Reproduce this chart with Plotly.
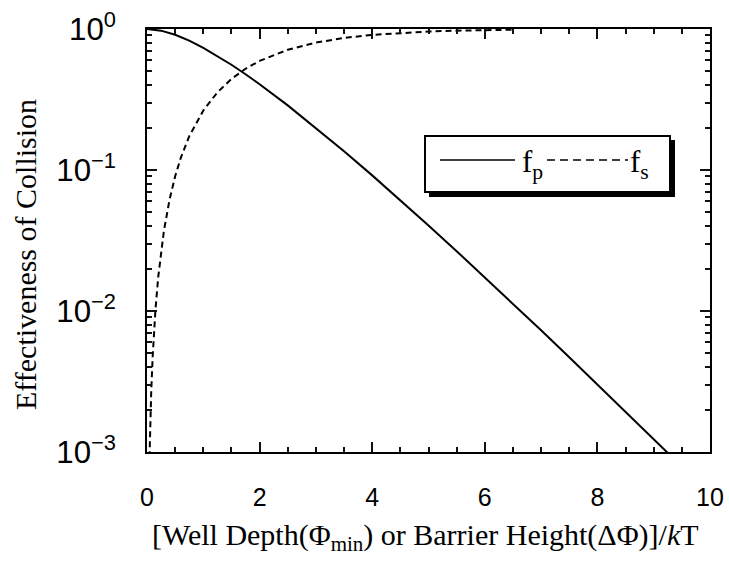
import plotly.graph_objects as go

# ---- data ----
x_fp = [0.0, 0.25, 0.5, 0.75, 1.0, 1.25, 1.5, 1.75, 2.0, 2.5, 3.0, 3.5, 4.0, 4.5, 5.0,
        5.5, 6.0, 6.5, 7.0, 7.5, 8.0, 8.5, 9.0, 9.25]
y_fp = [1.0, 0.9735, 0.9098, 0.8266, 0.7358, 0.6446, 0.5578, 0.4779, 0.406, 0.2873,
        0.1991, 0.1359, 0.0916, 0.0611, 0.0404, 0.02656, 0.01735, 0.01128, 0.0073,
        0.0047, 0.00302, 0.00193, 0.00123, 0.000985]

x_fs = [0.04, 0.05, 0.075, 0.1, 0.15, 0.2, 0.3, 0.4, 0.5, 0.6, 0.75, 1.0, 1.25, 1.5,
        1.75, 2.0, 2.5, 3.0, 3.5, 4.0, 4.5, 5.0, 5.5, 6.0, 6.5]
y_fs = [0.00078, 0.00121, 0.00268, 0.00468, 0.01019, 0.01752, 0.03694, 0.06155,
        0.0902, 0.1219, 0.1734, 0.2642, 0.3554, 0.4422, 0.5221, 0.594, 0.7127,
        0.8009, 0.8641, 0.9084, 0.9389, 0.9596, 0.9734, 0.9826, 0.9887]

x_range = [0, 10]
x_major_step = 2
x_minor_step = 0.5
y_range_log = [-3, 0]
y_label_alias = {"1": "10<sup>0</sup>"}

W, H = 729, 567
L, R, T, B = 147, 19, 29, 115
PW, PH = W - L - R, H - T - B
INK = "#111111"


def px(xp):
    return (xp - L) / PW


def py(yp):
    return (H - B - yp) / PH


fig = go.Figure()
fig.add_trace(go.Scatter(x=x_fp, y=y_fp, mode="lines", name="f<sub>p</sub>",
                         line=dict(color="black", width=2), showlegend=False))
fig.add_trace(go.Scatter(x=x_fs, y=y_fs, mode="lines", name="f<sub>s</sub>",
                         line=dict(color="black", width=2, dash="6px,4px"),
                         showlegend=False))

tickfont = dict(family="Liberation Sans", size=25, color="black")
fig.update_xaxes(range=x_range, dtick=x_major_step, ticks="inside", ticklen=10,
                 tickwidth=2, tickcolor=INK, showline=True, linecolor="black",
                 linewidth=2, mirror="allticks", showgrid=False, zeroline=False,
                 tickfont=tickfont, ticklabelstandoff=22, automargin=False,
                 minor=dict(ticks="inside", ticklen=5, dtick=x_minor_step,
                            tickcolor=INK))
fig.update_yaxes(type="log", range=y_range_log, dtick=1, ticks="inside", ticklen=10,
                 tickwidth=2, tickcolor=INK, showline=True, linecolor="black",
                 linewidth=2, mirror="allticks", showgrid=False,
                 exponentformat="power", labelalias=y_label_alias,
                 tickfont=tickfont, ticklabelstandoff=24, automargin=False,
                 minor=dict(ticks="inside", ticklen=5, dtick="D1", tickcolor=INK))

serif = "Liberation Serif"
shapes = [
    # legend shadow
    dict(type="rect", xref="paper", yref="paper", x0=px(429), x1=px(675),
         y0=py(197), y1=py(140), fillcolor="black", line=dict(width=0), layer="above"),
    # legend box
    dict(type="rect", xref="paper", yref="paper", x0=px(425), x1=px(670),
         y0=py(192), y1=py(136), fillcolor="white",
         line=dict(color="black", width=2), layer="above"),
    # legend keys
    dict(type="line", xref="paper", yref="paper", x0=px(440), x1=px(515),
         y0=py(160), y1=py(160), line=dict(color="black", width=1.5), layer="above"),
    dict(type="line", xref="paper", yref="paper", x0=px(547), x1=px(628),
         y0=py(160), y1=py(160), line=dict(color="black", width=1.5, dash="8px,5px"),
         layer="above"),
]
annotations = [
    dict(text="f<sub>p</sub>", xref="paper", yref="paper", x=px(520), y=py(164),
         xanchor="left", yanchor="middle", showarrow=False,
         font=dict(family=serif, size=31, color="black")),
    dict(text="f<sub>s</sub>", xref="paper", yref="paper", x=px(628), y=py(164),
         xanchor="left", yanchor="middle", showarrow=False,
         font=dict(family=serif, size=31, color="black")),
    dict(text="[Well Depth(Φ<sub>min</sub>) or Barrier Height(ΔΦ)]/<i>k</i>T",
         xref="paper", yref="paper", x=px(425), y=py(537),
         xanchor="center", yanchor="middle", showarrow=False,
         font=dict(family=serif, size=30, color="black")),
    dict(text="Effectiveness of Collision", xref="paper", yref="paper",
         x=px(25), y=py(255), textangle=-90, xanchor="center", yanchor="middle",
         showarrow=False, font=dict(family=serif, size=30, color="black")),
]

fig.update_layout(width=W, height=H, margin=dict(l=L, r=R, t=T, b=B),
                  paper_bgcolor="white", plot_bgcolor="white",
                  shapes=shapes, annotations=annotations, showlegend=False)

fig.write_html("out.html")
